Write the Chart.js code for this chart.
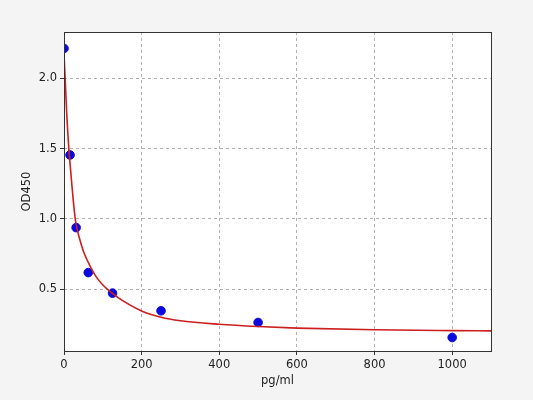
<!DOCTYPE html>
<html>
<head>
<meta charset="utf-8">
<script src="https://cdn.jsdelivr.net/npm/chart.js@4.4.1/dist/chart.umd.min.js"></script>
<style>
  html, body { margin: 0; padding: 0; background: #f4f4f4; }
  #wrap { width: 533px; height: 400px; position: relative; }
</style>
</head>
<body>
<div id="wrap"><canvas id="odChart"></canvas></div>
<script>
// measured standards
const concentrations = [0, 15.6, 31.25, 62.5, 125, 250, 500, 1000];
const odValues = [2.213, 1.455, 0.938, 0.618, 0.472, 0.346, 0.263, 0.156];

// fitted curve
const curveX = [0, 3, 7, 12, 16, 20, 25, 30, 40, 50, 62.5, 80, 100, 125, 150, 200, 250, 300, 400, 500, 600, 800, 1000, 1100];
const curveY = [2.17, 2.0, 1.75, 1.52, 1.38, 1.25, 1.1, 0.98, 0.86, 0.77, 0.69, 0.6, 0.53, 0.47, 0.42, 0.345, 0.3, 0.275, 0.25, 0.234, 0.223, 0.211, 0.205, 0.203];

const xTicks = [0, 200, 400, 600, 800, 1000];
const yTicks = [0.5, 1.0, 1.5, 2.0];

const fontSpec = { family: 'DejaVu Sans', size: 11.5 };

// white plot area with a full frame, like matplotlib
const frame = {
    id: 'frame',
    beforeDraw(chart) {
        const a = chart.chartArea, ctx = chart.ctx;
        ctx.save();
        ctx.fillStyle = '#ffffff';
        ctx.fillRect(a.left, a.top, a.right - a.left, a.bottom - a.top);
        ctx.restore();
    },
    afterDraw(chart) {
        const a = chart.chartArea, ctx = chart.ctx;
        ctx.save();
        ctx.strokeStyle = '#333333';
        ctx.lineWidth = 1;
        ctx.strokeRect(a.left + 0.5, a.top + 0.5, a.right - a.left, a.bottom - a.top);
        ctx.restore();
    }
};

new Chart(document.getElementById('odChart'), {
    type: 'scatter',
    data: {
        datasets: [
            {
                type: 'line',
                label: 'fit',
                data: curveX.map((x, i) => ({ x: x, y: curveY[i] })),
                borderColor: '#cc1f1f',
                borderWidth: 1.6,
                pointRadius: 0,
                fill: false,
                cubicInterpolationMode: 'monotone',
                order: 0
            },
            {
                label: 'standards',
                data: concentrations.map((x, i) => ({ x: x, y: odValues[i] })),
                backgroundColor: '#0a0adc',
                borderColor: '#0a0adc',
                pointRadius: 4.3,
                order: 1
            }
        ]
    },
    plugins: [frame],
    options: {
        responsive: true,
        maintainAspectRatio: false,
        animation: false,
        layout: { padding: { left: 0, top: 32, right: 42, bottom: 0 } },
        plugins: {
            legend: { display: false },
            tooltip: { enabled: false }
        },
        scales: {
            x: {
                type: 'linear',
                min: 0,
                max: 1100,
                afterBuildTicks: s => { s.ticks = xTicks.map(v => ({ value: v })); },
                afterFit: s => { s.height = 49; },
                ticks: { color: '#222', font: fontSpec, padding: 3, maxRotation: 0, callback: v => String(v) },
                grid: { color: '#b0b0b0', tickLength: 4, tickColor: '#333', tickBorderDash: [] },
                border: { display: false, dash: [3, 3] },
                title: { display: true, text: 'pg/ml', color: '#222', font: fontSpec, padding: { top: 0, bottom: 12 } }
            },
            y: {
                type: 'linear',
                min: 0.06,
                max: 2.33,
                afterBuildTicks: s => { s.ticks = yTicks.map(v => ({ value: v })); },
                afterFit: s => { s.width = 64; },
                ticks: { color: '#222', font: fontSpec, padding: 3, callback: v => v.toFixed(1) },
                grid: { color: '#b0b0b0', tickLength: 4, tickColor: '#333', tickBorderDash: [] },
                border: { display: false, dash: [3, 3] },
                title: { display: true, text: 'OD450', color: '#222', font: fontSpec, padding: { top: 20, bottom: 0 } }
            }
        }
    }
});
</script>
</body>
</html>
